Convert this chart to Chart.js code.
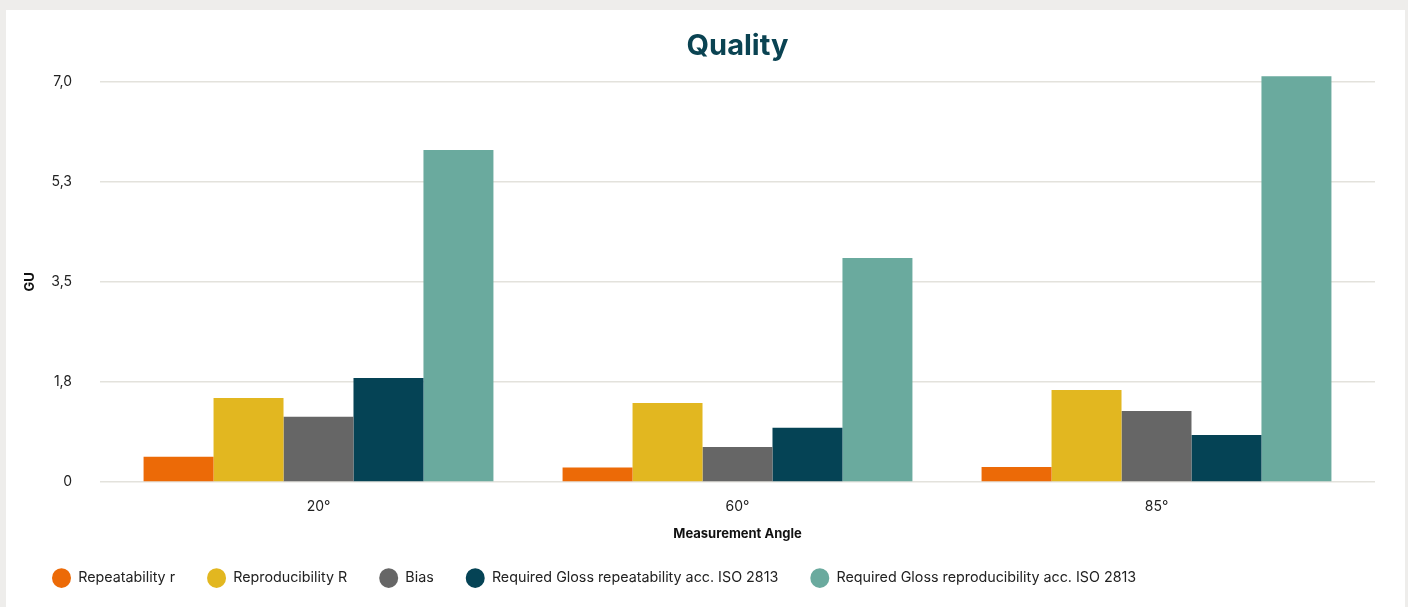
<!DOCTYPE html>
<html><head><meta charset="utf-8">
<script src="https://cdn.jsdelivr.net/npm/chart.js@4.4.0/dist/chart.umd.min.js"></script>
<style>
html,body{margin:0;padding:0;background:#eeedeb;width:1408px;height:607px;overflow:hidden}
#card{position:absolute;left:6px;top:10px;width:1399px;height:597px;background:#fff}
canvas{display:block}
</style></head><body>
<div id="card"><canvas id="c" width="1399" height="597" style="width:1399px;height:597px"></canvas></div>
<script>
const categories = ['20°', '60°', '85°'];
const seriesNames = ['Repeatability r', 'Reproducibility R', 'Bias', 'Required Gloss repeatability acc. ISO 2813', 'Required Gloss reproducibility acc. ISO 2813'];
const repeatability = [0.44, 0.25, 0.26];
const reproducibility = [1.47, 1.38, 1.61];
const bias = [1.14, 0.61, 1.24];
const reqRepeatability = [1.82, 0.95, 0.82];
const reqReproducibility = [5.81, 3.92, 7.10];
const yTicks = [0, 1.75, 3.5, 5.25, 7.0];
const colors = ['#ec6a07', '#e2b720', '#666666', '#054355', '#6aaa9e'];

const seriesValues = [repeatability, reproducibility, bias, reqRepeatability, reqReproducibility];
const FONT = 'Inter, "Noto Sans", sans-serif';
const gridColor = '#e3e2dc';

const fmt = v => v === 0 ? '0' : Number(v).toFixed(1).replace('.', ',');
const setTicks = s => { s.ticks = yTicks.map(v => ({ value: v })); };

new Chart(document.getElementById('c'), {
  type: 'bar',
  data: {
    labels: categories,
    datasets: seriesNames.map((n, i) => ({
      label: n,
      data: seriesValues[i],
      backgroundColor: colors[i],
      borderWidth: 0,
      clip: false,
      categoryPercentage: 0.835,
      barPercentage: 1.0
    }))
  },
  options: {
    responsive: false,
    animation: false,
    devicePixelRatio: 1,
    layout: { padding: { left: 14, right: 30, top: 0, bottom: 11.8 } },
    plugins: {
      title: {
        display: true,
        fullSize: false,
        text: 'Quality',
        color: '#0a4352',
        font: { family: FONT, size: 29, weight: '700' },
        padding: { top: 19, bottom: 18.2 }
      },
      legend: {
        display: true,
        position: 'bottom',
        align: 'start',
        labels: {
          usePointStyle: true,
          pointStyle: 'circle',
          pointStyleWidth: 19,
          boxHeight: 14,
          padding: 32,
          color: '#222',
          font: { family: FONT, size: 14.3 }
        }
      },
      tooltip: { enabled: false }
    },
    scales: {
      x: {
        grid: { display: false, drawTicks: false },
        border: { display: false },
        ticks: { color: '#222', font: { family: FONT, size: 14 }, padding: 16 },
        title: {
          display: true, text: 'Measurement Angle', color: '#111',
          font: { family: FONT, size: 13, weight: '700' },
          padding: { top: 4, bottom: -2.5 }
        },
        afterFit: s => { s.height = 57; }
      },
      y: {
        position: 'left',
        min: 0, max: 7,
        afterBuildTicks: setTicks,
        grid: { color: gridColor, lineWidth: 1.5, drawTicks: true, tickLength: 9, tickColor: gridColor },
        border: { display: false },
        ticks: { color: '#222', font: { family: FONT, size: 14 }, padding: 28, callback: fmt },
        title: {
          display: true, text: 'GU', color: '#111',
          font: { family: FONT, size: 13, weight: '700' },
          padding: { top: 2, bottom: 0 }
        },
        afterFit: s => { s.width = 89; }
      },
      y2: {
        position: 'right',
        display: true,
        min: 0, max: 7,
        afterBuildTicks: setTicks,
        grid: { color: gridColor, lineWidth: 1.5, drawOnChartArea: false, drawTicks: true, tickLength: 9, tickColor: gridColor },
        border: { display: false },
        ticks: { display: false },
        afterFit: s => { s.width = 9; }
      }
    }
  }
});
</script>
</body></html>
